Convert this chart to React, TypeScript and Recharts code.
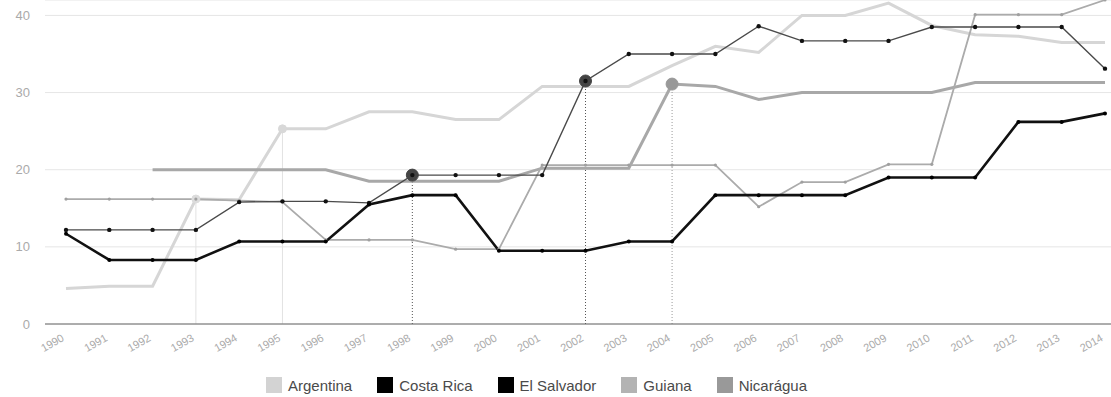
import {
  CartesianGrid,
  Legend,
  Line,
  LineChart,
  ReferenceDot,
  ReferenceLine,
  XAxis,
  YAxis
} from "recharts";

const years = [
  "1990", "1991", "1992", "1993", "1994", "1995", "1996", "1997", "1998", "1999",
  "2000", "2001", "2002", "2003", "2004", "2005", "2006", "2007", "2008", "2009",
  "2010", "2011", "2012", "2013", "2014"
];

const argentina = [4.6, 4.9, 4.9, 16.2, 16.1, 25.3, 25.3, 27.5, 27.5, 26.5, 26.5, 30.8, 30.8, 30.8, 33.5, 36.0, 35.2, 40.0, 40.0, 41.6, 38.7, 37.5, 37.3, 36.5, 36.5];
const costaRica = [11.7, 8.3, 8.3, 8.3, 10.7, 10.7, 10.7, 15.5, 16.7, 16.7, 9.5, 9.5, 9.5, 10.7, 10.7, 16.7, 16.7, 16.7, 16.7, 19.0, 19.0, 19.0, 26.2, 26.2, 27.3];
const elSalvador = [12.2, 12.2, 12.2, 12.2, 15.8, 15.9, 15.9, 15.7, 19.3, 19.3, 19.3, 19.3, 31.5, 35.0, 35.0, 35.0, 38.6, 36.7, 36.7, 36.7, 38.5, 38.5, 38.5, 38.5, 33.1];
const guiana = [16.2, 16.2, 16.2, 16.2, 16.0, 15.8, 10.9, 10.9, 10.9, 9.7, 9.7, 20.6, 20.6, 20.6, 20.6, 20.6, 15.2, 18.4, 18.4, 20.7, 20.7, 40.1, 40.1, 40.1, 42.0];
const nicaragua = [null, null, 20.0, 20.0, 20.0, 20.0, 20.0, 18.5, 18.5, 18.5, 18.5, 20.2, 20.2, 20.2, 31.1, 30.8, 29.1, 30.0, 30.0, 30.0, 30.0, 31.3, 31.3, 31.3, 31.3];

const yTicks = [0, 10, 20, 30, 40];

interface Serie {
  name: string;
  values: (number | null)[];
  color: string;
  legendColor: string;
  width: number;
  dotR: number;
  dotColor: string;
}

const series: Serie[] = [
  { name: "Argentina", values: argentina, color: "#d6d6d6", legendColor: "#d3d3d3", width: 3, dotR: 0, dotColor: "#d6d6d6" },
  { name: "Nicarágua", values: nicaragua, color: "#a8a8a8", legendColor: "#999999", width: 3, dotR: 0, dotColor: "#a8a8a8" },
  { name: "Guiana", values: guiana, color: "#ababab", legendColor: "#b3b3b3", width: 1.8, dotR: 1.6, dotColor: "#a0a0a0" },
  { name: "El Salvador", values: elSalvador, color: "#4a4a4a", legendColor: "#000000", width: 1.4, dotR: 2.2, dotColor: "#111" },
  { name: "Costa Rica", values: costaRica, color: "#111111", legendColor: "#000000", width: 2.6, dotR: 2, dotColor: "#000" }
];

const legendOrder = ["Argentina", "Costa Rica", "El Salvador", "Guiana", "Nicarágua"];

// points with the vertical guide down to the axis
const highlights = [
  { year: "1993", serie: "Argentina", color: "#e2e2e2", dot: "#dcdcdc", r: 4, dashed: false },
  { year: "1995", serie: "Argentina", color: "#e2e2e2", dot: "#d8d8d8", r: 4, dashed: false },
  { year: "1998", serie: "El Salvador", color: "#555", dot: "#444", r: 6, dashed: true },
  { year: "2002", serie: "El Salvador", color: "#555", dot: "#444", r: 6, dashed: true },
  { year: "2004", serie: "Nicarágua", color: "#999", dot: "#999", r: 6, dashed: true }
];

const data = years.map((year, i) => {
  const row: Record<string, string | number | null> = { year };
  series.forEach((s) => {
    row[s.name] = s.values[i];
  });
  return row;
});

const valueAt = (serie: string, year: string) => {
  const s = series.find((x) => x.name === serie);
  return s ? (s.values[years.indexOf(year)] as number) : 0;
};

function YearTick({ x, y, payload }: any) {
  return (
    <g transform={`translate(${x},${y})`}>
      <text x={-5} y={0} dy={6.5} textAnchor="end" fill="#aaa" fontSize={11} transform="rotate(-30)">
        {payload.value}
      </text>
    </g>
  );
}

function renderLegend() {
  return (
    <div
      style={{
        height: 33,
        paddingTop: 9,
        paddingLeft: 266,
        boxSizing: "border-box",
        display: "flex",
        alignItems: "center"
      }}
    >
      {legendOrder.map((name) => {
        const s = series.find((x) => x.name === name)!;
        return (
          <div key={name} style={{ display: "flex", alignItems: "center", marginRight: 25 }}>
            <span style={{ width: 16, height: 16, background: s.legendColor, marginRight: 6, display: "inline-block" }} />
            <span style={{ fontSize: 15, color: "#4a4a4a" }}>{name}</span>
          </div>
        );
      })}
    </div>
  );
}

export default function App() {
  return (
    <div style={{ position: "absolute", left: 0, top: 0, background: "#fff", fontFamily: "Arial, 'Liberation Sans', sans-serif" }}>
      <LineChart width={1111} height={397} data={data} margin={{ top: 0, right: 0, left: 0, bottom: 0 }}>
        <CartesianGrid vertical={false} stroke="#e6e6e6" />
        <XAxis
          dataKey="year"
          height={40}
          interval={0}
          padding={{ left: 21, right: 6 }}
          tickLine={false}
          axisLine={{ stroke: "#666" }}
          tick={<YearTick />}
        />
        <YAxis
          domain={[0, 42]}
          ticks={yTicks}
          width={45}
          axisLine={false}
          tickLine={false}
          tickMargin={9}
          tick={{ fill: "#aaa", fontSize: 13 }}
        />
        <Legend verticalAlign="bottom" content={renderLegend} />
        {highlights.map((h) => (
          <ReferenceLine
            key={"l" + h.year}
            segment={[
              { x: h.year, y: 0 },
              { x: h.year, y: valueAt(h.serie, h.year) }
            ]}
            stroke={h.color}
            strokeDasharray={h.dashed ? "1 2" : undefined}
          />
        ))}
        {series.map((s) => (
          <Line
            key={s.name}
            dataKey={s.name}
            stroke={s.color}
            strokeWidth={s.width}
            dot={s.dotR > 0 ? { r: s.dotR, fill: s.dotColor, stroke: s.dotColor, strokeWidth: 0 } : false}
            activeDot={false}
            isAnimationActive={false}
          />
        ))}
        {highlights.map((h) => (
          <ReferenceDot
            key={"d" + h.year}
            x={h.year}
            y={valueAt(h.serie, h.year)}
            r={h.r}
            fill={h.dot}
            stroke={h.dot}
          />
        ))}
      </LineChart>
    </div>
  );
}
